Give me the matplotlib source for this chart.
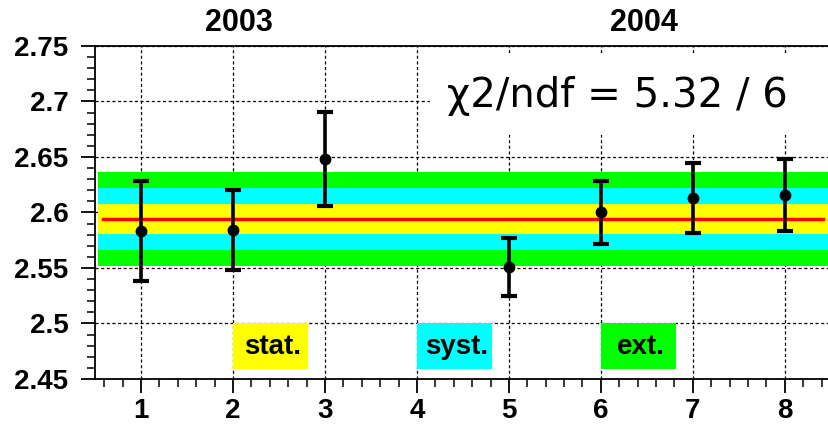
import numpy as np
import matplotlib
matplotlib.use("Agg")
from matplotlib import pyplot as plt
from matplotlib.patches import Rectangle
from matplotlib.ticker import MultipleLocator

# measurements per period
runs = [1, 2, 3, 5, 6, 7, 8]
vals = [2.583, 2.584, 2.648, 2.551, 2.600, 2.613, 2.616]
errs = [0.045, 0.036, 0.0425, 0.026, 0.028, 0.0315, 0.0326]

# weighted mean and bands
mean = 2.594
band_names = ["ext.", "syst.", "stat."]
band_half = [0.0425, 0.028, 0.0136]
band_cols = ["#00ff00", "#00ffff", "#ffff00"]
label_x = [6.0, 4.0, 2.0]

years = ["2003", "2004"]
year_x = [2.07, 6.47]
chi_txt = "\u03c72/ndf = 5.32 / 6"

plt.rcParams['font.family'] = ['Liberation Sans', 'DejaVu Sans']

fig = plt.figure(figsize=(8.29, 4.26), dpi=100)
ax = fig.add_axes([95/829, 1-379/426, 1-95/829, (379-46)/426])
ax.set_xlim(0.5, 8.48)
ax.set_ylim(2.45, 2.75)

ax.set_axisbelow(True)
ax.grid(True, which='major', color='black', linestyle=(0, (2.5, 2)), linewidth=0.9)

for h, c in zip(band_half, band_cols):
    ax.fill_between([0.53, 8.5], mean-h, mean+h, color=c, lw=0, zorder=1)
ax.plot([0.59, 8.41], [mean, mean], color='red', lw=2.5, zorder=2)

# white box behind chi2 text
ax.add_patch(Rectangle((4.14, 2.6698), 4.5, 0.074, color='white', lw=0, zorder=1.5))
ax.text(4.33, 2.705, chi_txt, fontsize=29, family='DejaVu Sans', va='center', ha='left', zorder=3)

for name, c, x0 in zip(band_names, band_cols, label_x):
    ax.add_patch(Rectangle((x0, 2.459), 0.82, 0.041, color=c, lw=0, zorder=2))
    ax.text(x0+0.43, 2.4785, name, fontsize=20, fontweight='bold', ha='center', va='center', zorder=3)

ax.errorbar(runs, vals, yerr=errs, fmt='o', color='black', ms=7.5, elinewidth=2.6,
            capsize=6, capthick=3, zorder=4)

for t, x in zip(years, year_x):
    ax.text(x, 2.757, t, fontsize=22, fontweight='bold', ha='center', va='bottom')

ax.xaxis.set_major_locator(MultipleLocator(1))
ax.xaxis.set_minor_locator(MultipleLocator(0.2))
ax.yaxis.set_minor_locator(MultipleLocator(0.01))
ax.set_yticks([2.45, 2.5, 2.55, 2.6, 2.65, 2.7, 2.75])
ax.set_yticklabels(["2.45", "2.5", "2.55", "2.6", "2.65", "2.7", "2.75"])

ax.tick_params(which='major', direction='out', length=10, width=1.3, labelsize=20)
ax.tick_params(which='minor', direction='out', length=5.5, width=1.1)
ax.tick_params(axis='x', pad=4)
ax.tick_params(axis='y', pad=9)
for lab in ax.get_xticklabels() + ax.get_yticklabels():
    lab.set_fontweight('bold')

ax.spines['right'].set_visible(False)
for s in ['left', 'top', 'bottom']:
    ax.spines[s].set_linewidth(1.3)

fig.savefig("out.png", dpi=100)
